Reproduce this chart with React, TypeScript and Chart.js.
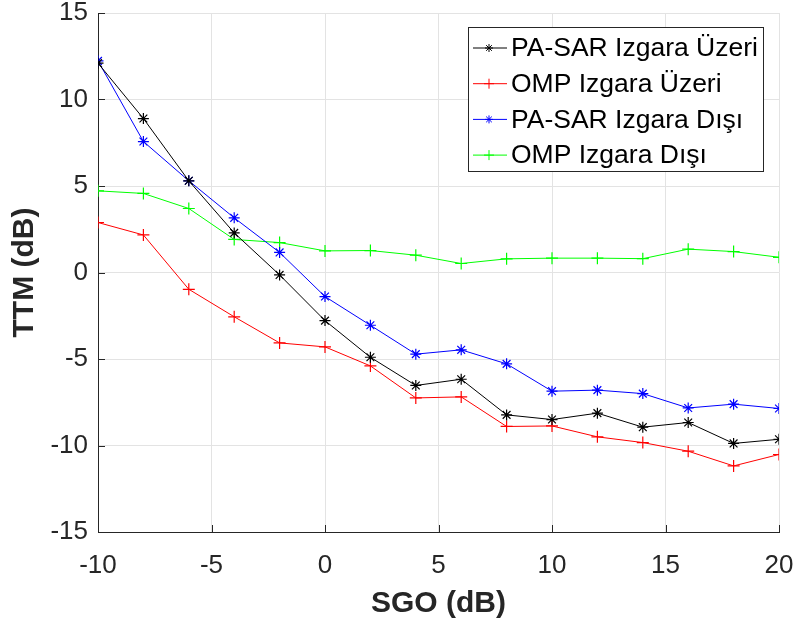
import React, { useEffect, useRef } from "react";
import { Chart, registerables } from "chart.js";

Chart.register(...registerables);

// SGO (dB) sweep
const sgo = [-10, -8, -6, -4, -2, 0, 2, 4, 6, 8, 10, 12, 14, 16, 18, 20];

// TTM (dB) per method
const paSarOnGrid = [12.1, 8.9, 5.3, 2.29, -0.14, -2.78, -4.9, -6.53, -6.17, -8.23, -8.5, -8.13, -8.94, -8.67, -9.88, -9.64];
const ompOnGrid = [2.89, 2.17, -0.97, -2.56, -4.07, -4.3, -5.4, -7.25, -7.19, -8.9, -8.87, -9.5, -9.83, -10.33, -11.18, -10.52];
const paSarOffGrid = [12.23, 7.57, 5.3, 3.16, 1.16, -1.39, -3.05, -4.72, -4.47, -5.28, -6.86, -6.8, -7.0, -7.83, -7.61, -7.86];
const ompOffGrid = [4.72, 4.57, 3.7, 1.91, 1.73, 1.25, 1.27, 1.0, 0.52, 0.79, 0.83, 0.83, 0.8, 1.35, 1.21, 0.88];

const seriesLabels = ["PA-SAR Izgara Üzeri", "OMP Izgara Üzeri", "PA-SAR Izgara Dışı", "OMP Izgara Dışı"];
const seriesValues = [paSarOnGrid, ompOnGrid, paSarOffGrid, ompOffGrid];
const seriesColors = ["#000000", "#ff0000", "#0000ff", "#00ff00"];
const seriesMarkers = ["star", "cross", "star", "cross"];

const xTicks = [-10, -5, 0, 5, 10, 15, 20];
const yTicks = [-15, -10, -5, 0, 5, 10, 15];

const FONT = '"Liberation Sans", Arial, Helvetica, sans-serif';
const AXIS_COLOR = "#262626";
const GRID_COLOR = "#e3e3e3";

function drawMarker(ctx: CanvasRenderingContext2D, style: string, x: number, y: number, r: number) {
  ctx.beginPath();
  ctx.moveTo(x - r, y);
  ctx.lineTo(x + r, y);
  ctx.moveTo(x, y - r);
  ctx.lineTo(x, y + r);
  if (style === "star") {
    const d = r * Math.SQRT1_2;
    ctx.moveTo(x - d, y - d);
    ctx.lineTo(x + d, y + d);
    ctx.moveTo(x - d, y + d);
    ctx.lineTo(x + d, y - d);
  }
  ctx.stroke();
}

// inward tick marks on the left and bottom axes
const innerTicks = {
  id: "innerTicks",
  beforeDatasetsDraw(chart: any) {
    const { ctx, chartArea, scales } = chart;
    ctx.save();
    ctx.strokeStyle = AXIS_COLOR;
    ctx.lineWidth = 1;
    ctx.beginPath();
    for (const v of xTicks) {
      const px = Math.round(scales.x.getPixelForValue(v)) + 0.5;
      ctx.moveTo(px, chartArea.bottom);
      ctx.lineTo(px, chartArea.bottom - 7);
    }
    for (const v of yTicks) {
      const py = Math.round(scales.y.getPixelForValue(v)) + 0.5;
      ctx.moveTo(chartArea.left, py);
      ctx.lineTo(chartArea.left + 7, py);
    }
    ctx.stroke();
    ctx.restore();
  },
};

// boxed legend in the upper right of the plot area
const boxLegend = {
  id: "boxLegend",
  afterDatasetsDraw(chart: any) {
    const { ctx, chartArea } = chart;
    const datasets = chart.data.datasets;
    ctx.save();
    ctx.font = `26.5px ${FONT}`;
    let maxW = 0;
    for (const ds of datasets) maxW = Math.max(maxW, ctx.measureText(ds.label).width);
    const w = Math.round(43 + maxW + 5);
    const h = 144;
    const right = chartArea.right - 16;
    const left = right - w;
    const top = chartArea.top + 14;
    ctx.fillStyle = "#ffffff";
    ctx.fillRect(left, top, w, h);
    ctx.strokeStyle = AXIS_COLOR;
    ctx.lineWidth = 1;
    ctx.strokeRect(left + 0.5, top + 0.5, w, h);
    datasets.forEach((ds: any, i: number) => {
      const cy = top + 21 + i * 35.7;
      ctx.strokeStyle = ds.borderColor;
      ctx.lineWidth = 1;
      ctx.beginPath();
      ctx.moveTo(left + 5, cy);
      ctx.lineTo(left + 39, cy);
      ctx.stroke();
      drawMarker(ctx, ds.pointStyle, left + 21, cy, ds.pointStyle === "star" ? 4 : 5);
      ctx.fillStyle = "#000000";
      ctx.textAlign = "left";
      ctx.textBaseline = "middle";
      ctx.fillText(ds.label, left + 43, cy + 1);
    });
    ctx.restore();
  },
};

export default function App() {
  const canvasRef = useRef<HTMLCanvasElement | null>(null);

  useEffect(() => {
    const canvas = canvasRef.current;
    if (!canvas) return;
    const chart = new Chart(canvas, {
      type: "line",
      data: {
        datasets: seriesLabels.map((label, i) => ({
          label,
          data: sgo.map((x, j) => ({ x, y: seriesValues[i][j] })),
          borderColor: seriesColors[i],
          backgroundColor: seriesColors[i],
          borderWidth: 1,
          pointStyle: seriesMarkers[i] as any,
          pointRadius: seriesMarkers[i] === "star" ? 5.5 : 6,
          pointBorderWidth: 1.2,
          pointBorderColor: seriesColors[i],
          pointBackgroundColor: seriesColors[i],
          tension: 0,
          fill: false,
        })),
      },
      options: {
        animation: false,
        responsive: false,
        maintainAspectRatio: false,
        layout: { padding: { left: 0, top: 13, right: 19, bottom: 0 } },
        plugins: { legend: { display: false }, tooltip: { enabled: false } },
        scales: {
          x: {
            type: "linear",
            min: -10,
            max: 20,
            afterBuildTicks: (scale: any) => {
              scale.ticks = xTicks.map((v) => ({ value: v }));
            },
            afterFit: (scale: any) => {
              scale.height = 96;
              scale.paddingLeft = 0;
              scale.paddingRight = 0;
            },
            ticks: { color: "#262626", font: { family: FONT, size: 26 }, padding: 18, maxRotation: 0 },
            grid: { color: GRID_COLOR, drawTicks: false, lineWidth: 1 },
            border: { display: true, color: AXIS_COLOR, width: 1 },
            title: {
              display: true,
              text: "SGO (dB)",
              color: "#262626",
              font: { family: FONT, size: 30, weight: "bold" },
              padding: { top: 0, bottom: 6 },
            },
          },
          y: {
            type: "linear",
            min: -15,
            max: 15,
            afterBuildTicks: (scale: any) => {
              scale.ticks = yTicks.map((v) => ({ value: v }));
            },
            afterFit: (scale: any) => {
              scale.width = 98;
              scale.paddingTop = 0;
              scale.paddingBottom = 0;
            },
            ticks: { color: "#262626", font: { family: FONT, size: 26 }, padding: 10 },
            grid: { color: GRID_COLOR, drawTicks: false, lineWidth: 1 },
            border: { display: true, color: AXIS_COLOR, width: 1 },
            title: {
              display: true,
              text: "TTM (dB)",
              color: "#262626",
              font: { family: FONT, size: 30, weight: "bold" },
              padding: { top: 7, bottom: 0 },
            },
          },
        },
      },
      plugins: [innerTicks, boxLegend],
    });
    return () => chart.destroy();
  }, []);

  return (
    <div style={{ position: "fixed", left: 0, top: 0, width: 798, height: 628, background: "#ffffff" }}>
      <canvas ref={canvasRef} width={798} height={628} style={{ display: "block" }} />
    </div>
  );
}
